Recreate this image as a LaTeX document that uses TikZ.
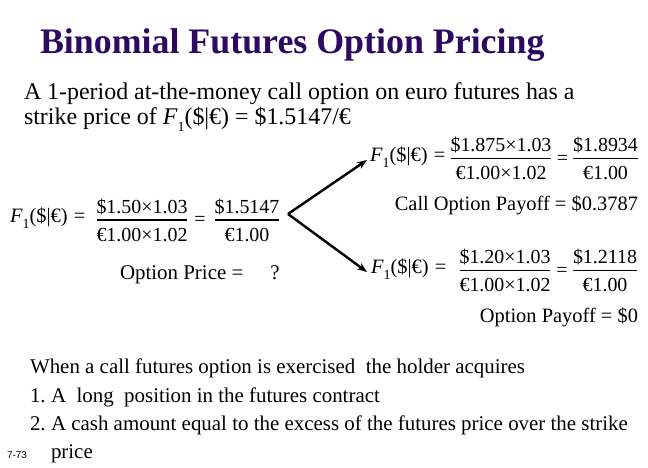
\documentclass[tikz,border=0pt]{standalone}
\usepackage{fontspec}
\setmainfont{Liberation Serif}
\newfontfamily\arialf{Liberation Sans}
\usetikzlibrary{arrows.meta}
\definecolor{titlecol}{RGB}{45,10,95}
\newcommand\Fsub{\textit{F}\raisebox{-0.28em}{\fontsize{14}{14}\selectfont 1}}
\newcommand\Flab{\Fsub(\$|€)\hspace{0.3em}=}
\newcommand\myfr[2]{{\renewcommand\arraystretch{0}\setlength\arrayrulewidth{1.2pt}%
  \begin{tabular}[b]{@{}c@{}}\rule[-6pt]{0pt}{22pt}#1\\\hline\rule[-3pt]{0pt}{24pt}#2\end{tabular}}}
\begin{document}
\begin{tikzpicture}[x=1bp,y=-1bp,
  every node/.style={inner sep=0pt, outer sep=0pt},
  titletext/.style={anchor=base west, font=\fontsize{36}{40}\selectfont\bfseries, text=titlecol},
  bodytext/.style={anchor=base west, font=\fontsize{24}{28}\selectfont},
  eqtext/.style={font=\fontsize{20}{24}\selectfont},
  labtext/.style={font=\fontsize{20.5}{24}\selectfont},
  lowtext/.style={anchor=base west, font=\fontsize{21}{25}\selectfont},
  branch/.style={line width=2.4bp, -{Stealth[length=10bp,width=7.5bp]}}]
\useasboundingbox (0,0) rectangle (648,468);
\fill[white] (0,0) rectangle (648,468);

\node[titletext] (title) at (40,54) {Binomial Futures Option Pricing};
\node[bodytext] (intro1) at (24,100) {A 1-period at-the-money call option on euro futures has a};
\node[bodytext] (intro2) at (24,125) {strike price of \Fsub(\$|€) = \$1.5147/€};

% left equation (bar at y=220.5)
\node[labtext, anchor=base west] (lF) at (10,223) {\Flab};
\node[eqtext, anchor=base] (lfa) at (142,241.5) {\myfr{\$1.50×1.03}{€1.00×1.02}};
\node[eqtext, anchor=base] (leq) at (200,226) {=};
\node[eqtext, anchor=base] (lfb) at (247,241.5) {\myfr{\$1.5147}{€1.00}};
\node[font=\fontsize{21}{25}\selectfont, anchor=base west] (oprice) at (120,280) {Option Price =};
\node[font=\fontsize{21}{25}\selectfont, anchor=base] (qm) at (275,280) {?};

% upper right equation (bar at y=159)
\node[labtext, anchor=base west] (uF) at (370,162) {\Flab};
\node[eqtext, anchor=base] (ufa) at (501,180) {\myfr{\$1.875×1.03}{€1.00×1.02}};
\node[eqtext, anchor=base] (ueq) at (562.5,164.5) {=};
\node[eqtext, anchor=base] (ufb) at (605.5,180) {\myfr{\$1.8934}{€1.00}};
\node[labtext, anchor=base east] (upay) at (638,211) {Call Option Payoff = \$0.3787};

% lower right equation (bar at y=271)
\node[labtext, anchor=base west] (dF) at (371,274) {\Flab};
\node[eqtext, anchor=base] (dfa) at (505,292) {\myfr{\$1.20×1.03}{€1.00×1.02}};
\node[eqtext, anchor=base] (deq) at (562,276.5) {=};
\node[eqtext, anchor=base] (dfb) at (605,292) {\myfr{\$1.2118}{€1.00}};
\node[labtext, anchor=base east] (dpay) at (638,323) {Option Payoff = \$0};

% branches
\coordinate (apex) at (288,214);
\coordinate (uptip) at (367,160);
\coordinate (downtip) at (367,272);
\draw[branch] (apex) -- (uptip);
\draw[branch] (apex) -- (downtip);

% bottom text
\node[lowtext] (when) at (30,373) {When a call futures option is exercised\ \ the holder acquires};
\node[lowtext] (n1) at (30,402) {1.};
\node[lowtext] (i1) at (51,402) {A\ \ long\ \ position in the futures contract};
\node[lowtext] (n2) at (30,430) {2.};
\node[lowtext] (i2) at (51,430) {A cash amount equal to the excess of the futures price over the strike};
\node[lowtext] (i2b) at (51,458) {price};
\node[anchor=base west, font=\arialf\fontsize{10}{12}\selectfont] (pg) at (7,458) {7-73};
\end{tikzpicture}
\end{document}
